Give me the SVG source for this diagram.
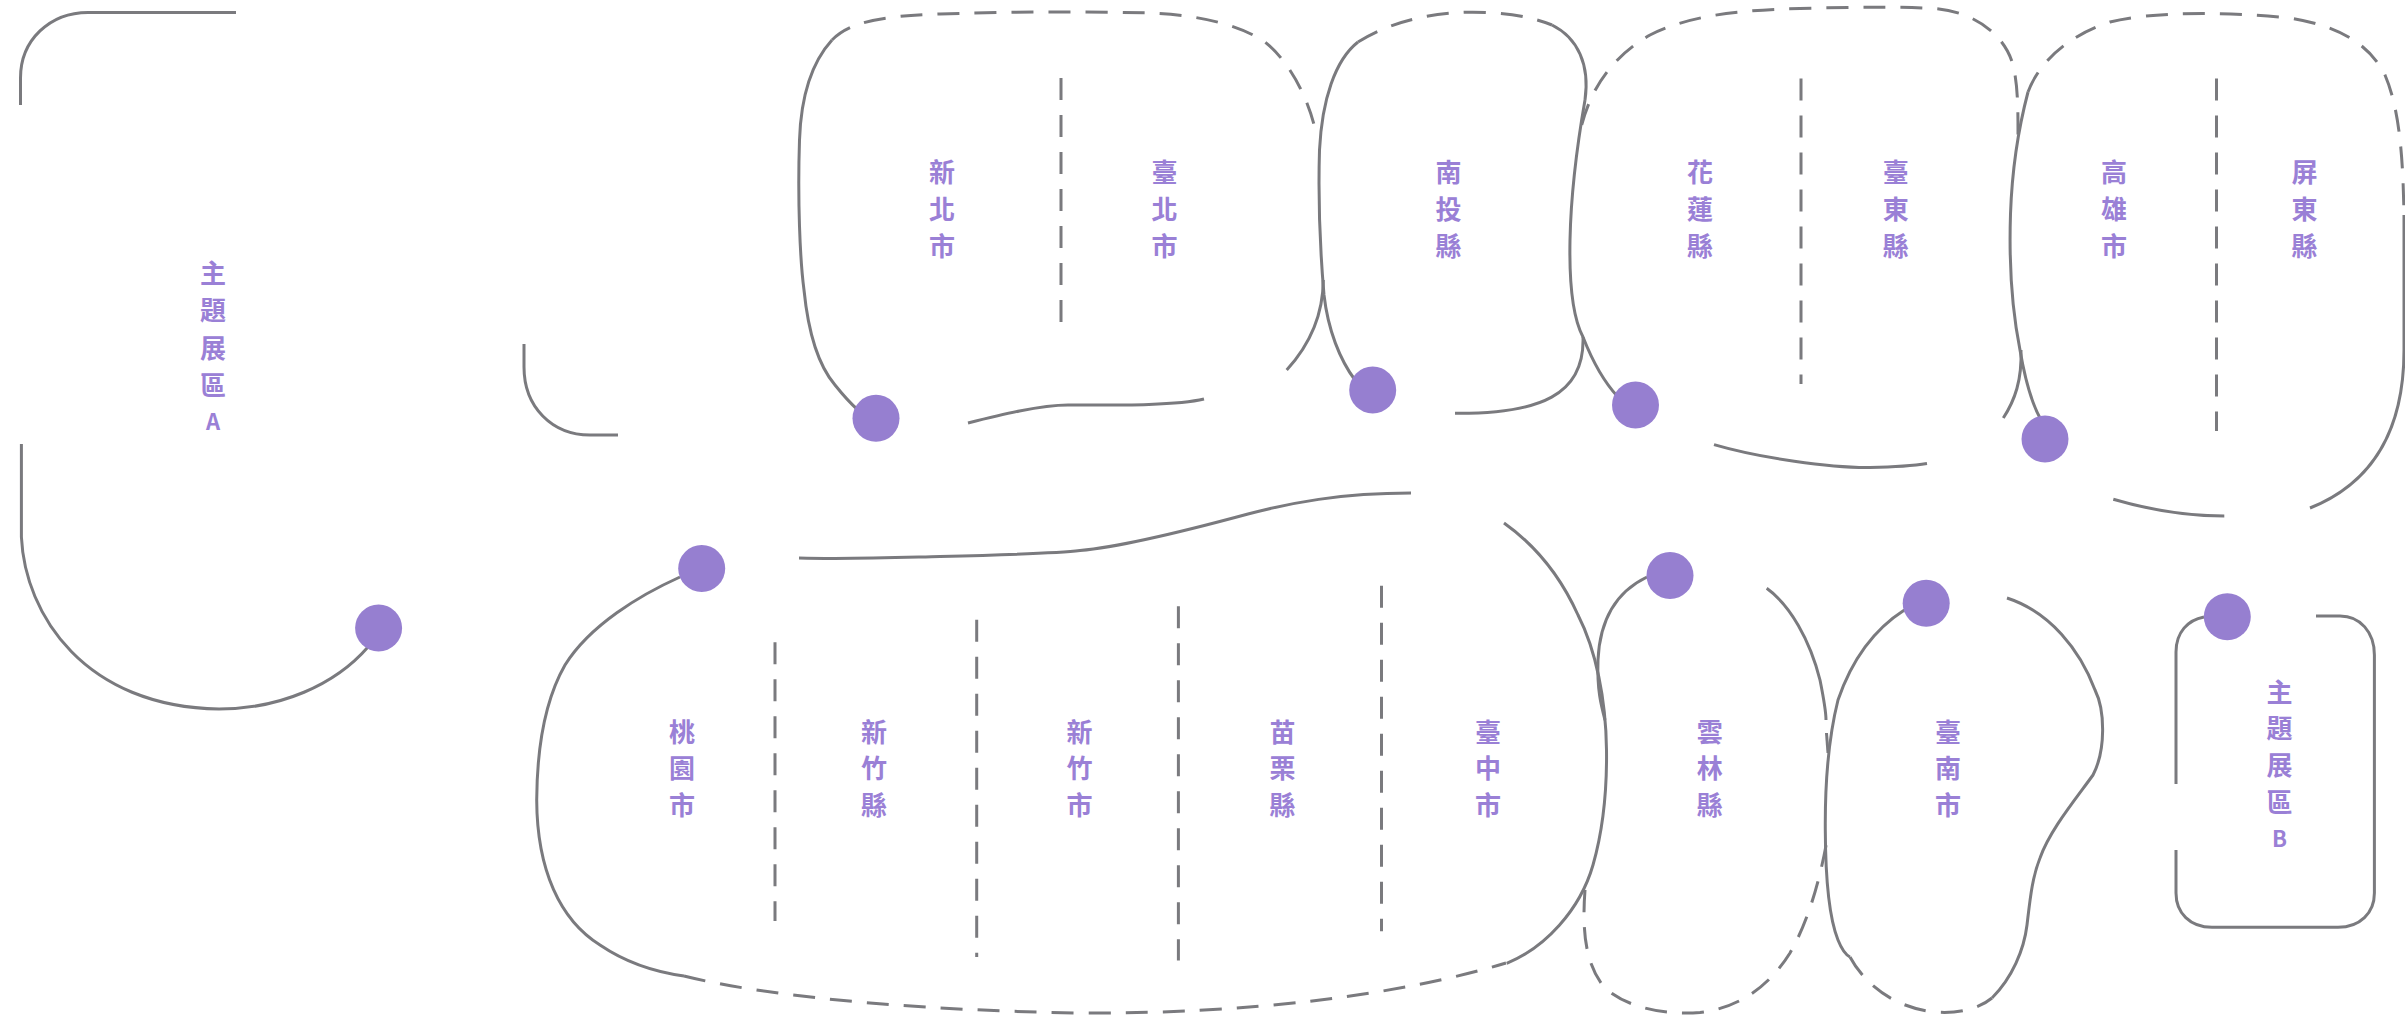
<svg xmlns="http://www.w3.org/2000/svg" width="2405" height="1018" viewBox="0 0 2405 1018">
<style>
.s{fill:none;stroke:#7a7a7e;stroke-width:3;stroke-linecap:butt}
.d{fill:none;stroke:#7a7a7e;stroke-width:3;stroke-dasharray:22 15}
.dot{fill:#967fd0}
.t{font-family:"Noto Sans CJK TC","Noto Sans CJK SC",sans-serif;font-size:26px;font-weight:700;fill:#9a80d6;text-anchor:middle}
.l{font-family:"Noto Sans CJK TC","Noto Sans",sans-serif;font-size:22px;font-weight:700;fill:#9a80d6;text-anchor:middle}
</style>
<rect width="2405" height="1018" fill="#ffffff"/>

<g id="zone-a">
<path class="s" d="M236,12.4 H88 C50,12.4 20.5,40 20.5,78 V105"/>
<path class="s" d="M21.4,444 V537 C25,615 85,707 219,709 C280,709 335,685 368,647"/>
<circle class="dot" cx="378.6" cy="628" r="23.5"/>
<text class="t" x="213" y="283">主</text>
<text class="t" x="213" y="320">題</text>
<text class="t" x="213" y="357.5">展</text>
<text class="t" x="213" y="394.7">區</text>
<text class="l" x="213" y="429.5">A</text>
</g>

<g id="hook">
<path class="s" d="M524,344 V367 C524,407 552,435 590,435 H618"/>
</g>

<g id="new-taipei-taipei">
<path class="d" d="M832,40 C850,22 880,16 940,14 C1000,12 1080,11 1150,13 C1200,15 1240,25 1265,42 C1290,62 1310,100 1317,138"/>
<path class="s" d="M832,40 C812,62 801,95 799.5,140 C797.5,200 800,260 804,290 C808,330 818,365 835,385 C843,395 850,403 858,410"/>
<path class="s" d="M968,423 C1000,415 1040,405 1068,405 C1110,405 1175,406 1204,399"/>
<path class="s" d="M1323.3,280 C1323,320 1305,350 1286.7,370"/>
<line class="d" x1="1061" y1="78" x2="1061" y2="322"/>
<circle class="dot" cx="876" cy="418.3" r="23.5"/>
<text class="t" x="942" y="181.5">新</text>
<text class="t" x="942" y="218.5">北</text>
<text class="t" x="942" y="256">市</text>
<text class="t" x="1164.4" y="181.5">臺</text>
<text class="t" x="1164.4" y="218.5">北</text>
<text class="t" x="1164.4" y="256">市</text>
</g>

<g id="nantou">
<path class="d" d="M1358,42 C1385,25 1420,14 1465,12.3 C1500,11.5 1530,16 1552,25"/>
<path class="s" d="M1358,42 C1335,60 1322,100 1319.5,150 C1318,200 1321,260 1324,295 C1328,330 1340,360 1355,380"/>
<path class="s" d="M1552,25 C1578,38 1590,65 1585,100"/>
<path class="s" d="M1583,337 C1585,395 1540,414 1455,413.3"/>
<circle class="dot" cx="1372.7" cy="390" r="23.5"/>
<text class="t" x="1448.4" y="181.5">南</text>
<text class="t" x="1448.4" y="218.5">投</text>
<text class="t" x="1448.4" y="256">縣</text>
</g>

<g id="hualien-taitung">
<path class="d" d="M1581.7,125 C1592,85 1615,55 1650,35 C1690,15 1740,10 1800,8.5 C1850,7 1900,6.5 1935,8.5 C1975,12 2005,35 2013,65 C2018,85 2018,110 2018,135"/>
<path class="s" d="M1585,100 C1578,140 1571,190 1570,240 C1569,290 1574,320 1583,337 C1592,360 1604,382 1618,397"/>
<path class="s" d="M1714,444.6 C1760,458 1830,468 1870,467.5 C1895,467 1912,466 1927,463.5"/>
<path class="s" d="M2021,350 C2022,380 2015,400 2003.3,418"/>
<line class="d" x1="1801" y1="78.6" x2="1801" y2="384"/>
<circle class="dot" cx="1635.5" cy="405" r="23.5"/>
<text class="t" x="1700" y="181.5">花</text>
<text class="t" x="1700" y="218.5">蓮</text>
<text class="t" x="1700" y="256">縣</text>
<text class="t" x="1895.7" y="181.5">臺</text>
<text class="t" x="1895.7" y="218.5">東</text>
<text class="t" x="1895.7" y="256">縣</text>
</g>

<g id="kaohsiung-pingtung">
<path class="d" d="M2028,92 C2040,60 2070,35 2110,22 C2150,12 2220,11 2290,18 C2340,26 2370,45 2385,75 C2400,110 2403,160 2404,215"/>
<path class="s" d="M2028,92 C2018,130 2012,170 2010.5,214 C2009,260 2012,310 2020,350 C2026,385 2033,405 2040,418"/>
<path class="s" d="M2404,215 V350 C2404,420 2380,480 2310,508"/>
<path class="s" d="M2113.3,499.3 C2150,510 2190,516 2224.3,516"/>
<line class="d" x1="2216.5" y1="78.6" x2="2216.5" y2="431"/>
<circle class="dot" cx="2045" cy="439" r="23.5"/>
<text class="t" x="2114" y="181.5">高</text>
<text class="t" x="2114" y="218.5">雄</text>
<text class="t" x="2114" y="256">市</text>
<text class="t" x="2304.5" y="181.5">屏</text>
<text class="t" x="2304.5" y="218.5">東</text>
<text class="t" x="2304.5" y="256">縣</text>
</g>

<g id="taoyuan-taichung">
<path class="s" d="M799,558 C850,559.5 900,557.5 940,556.5 C1000,555 1060,553 1080,550.5 C1120,547 1200,527 1248,514 C1290,503 1340,493 1411,493"/>
<path class="s" d="M680,577 C640,595 590,625 565,665 C545,700 537,750 536.7,800 C537,870 560,920 600,945 C625,962 655,972 684,976"/>
<path class="d" d="M684,976 C760,995 900,1010 1080,1013 C1250,1014 1400,995 1506,963"/>
<path class="s" d="M1506.7,963.3 C1545,948 1580,910 1593,865 C1603,830 1607,790 1606.5,750 C1606,700 1596,650 1578,615 C1560,575 1535,545 1504,523"/>
<line class="d" x1="775" y1="642.3" x2="775" y2="921"/>
<line class="d" x1="976.7" y1="619.7" x2="976.7" y2="957"/>
<line class="d" x1="1178.4" y1="606.3" x2="1178.4" y2="960.4"/>
<line class="d" x1="1381.5" y1="585.7" x2="1381.5" y2="931.3"/>
<circle class="dot" cx="701.7" cy="568.5" r="23.5"/>
<text class="t" x="682" y="741.5">桃</text>
<text class="t" x="682" y="778.3">園</text>
<text class="t" x="682" y="815.3">市</text>
<text class="t" x="874" y="741.5">新</text>
<text class="t" x="874" y="778.3">竹</text>
<text class="t" x="874" y="815.3">縣</text>
<text class="t" x="1079.4" y="741.5">新</text>
<text class="t" x="1079.4" y="778.3">竹</text>
<text class="t" x="1079.4" y="815.3">市</text>
<text class="t" x="1282.5" y="741.5">苗</text>
<text class="t" x="1282.5" y="778.3">栗</text>
<text class="t" x="1282.5" y="815.3">縣</text>
<text class="t" x="1488" y="741.5">臺</text>
<text class="t" x="1488" y="778.3">中</text>
<text class="t" x="1488" y="815.3">市</text>
</g>

<g id="yunlin">
<path class="s" d="M1647,577 C1620,590 1600,615 1598,660 C1597,690 1601,705 1605,720"/>
<path class="d" d="M1585,890 C1582,930 1585,965 1605,988 C1630,1010 1670,1015 1700,1012.5 C1740,1008 1770,985 1790,953 C1808,922 1820,880 1827,840"/>
<path class="s" d="M1766.7,588.3 C1790,605 1810,640 1820,680 C1824,700 1826,710 1826,720"/>
<path class="s" d="M1826.5,733 L1828,753"/>
<circle class="dot" cx="1670" cy="575.5" r="23.5"/>
<text class="t" x="1709.8" y="741.5">雲</text>
<text class="t" x="1709.8" y="778.3">林</text>
<text class="t" x="1709.8" y="815.3">縣</text>
</g>

<g id="tainan">
<path class="s" d="M1904.4,610 C1870,632 1850,665 1838,700 C1828,740 1825,790 1825.3,830 C1825.5,880 1830,920 1838,940 C1842,950 1846,955 1850,957"/>
<path class="d" d="M1850,957 C1865,985 1895,1008 1935,1012 C1960,1014 1980,1008 1992,998"/>
<path class="s" d="M1992,998 C2012,978 2024,950 2027,925 C2030,900 2032,878 2040,858 C2050,830 2075,800 2093,775 C2106,750 2105,710 2095,690 C2080,650 2050,612 2007,598"/>
<circle class="dot" cx="1926.2" cy="603.3" r="23.5"/>
<text class="t" x="1948" y="741.5">臺</text>
<text class="t" x="1948" y="778.3">南</text>
<text class="t" x="1948" y="815.3">市</text>
</g>

<g id="zone-b">
<path class="s" d="M2204,617 C2188,620 2176,632 2176,652 V784"/>
<path class="s" d="M2176,850 V893 C2176,913 2190,927.3 2212,927.3 H2338 C2360,927.3 2374.4,913 2374.4,893 V655 C2374.4,632 2360,616 2340,616 H2316"/>
<circle class="dot" cx="2227.3" cy="616.7" r="23.5"/>
<text class="t" x="2279.5" y="701.5">主</text>
<text class="t" x="2279.5" y="738.2">題</text>
<text class="t" x="2279.5" y="775">展</text>
<text class="t" x="2279.5" y="812.2">區</text>
<text class="l" x="2279.5" y="847.3">B</text>
</g>
</svg>
